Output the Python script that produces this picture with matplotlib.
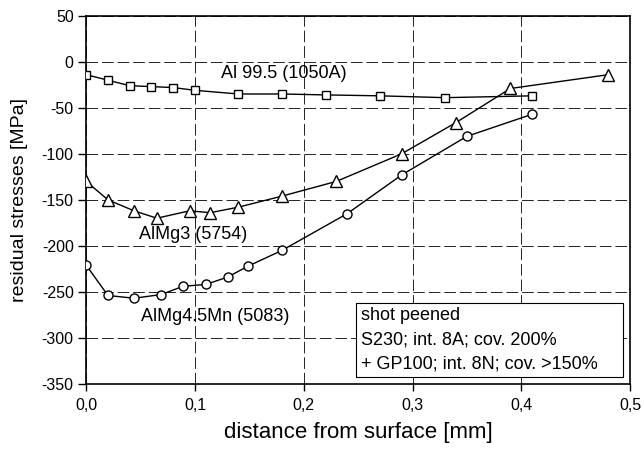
import matplotlib.pyplot as plt
from matplotlib.patches import Rectangle
from matplotlib.ticker import FuncFormatter

plt.rcParams['font.family'] = ['Liberation Sans', 'DejaVu Sans']

# Al 99.5 (1050A)
x_al = [0.0, 0.02, 0.04, 0.06, 0.08, 0.10, 0.14, 0.18, 0.22, 0.27, 0.33, 0.41]
y_al = [-14, -20, -26, -27, -28, -31, -35, -35, -36, -37, -39, -37]

# AlMg3 (5754)
x_mg3 = [0.0, 0.02, 0.044, 0.065, 0.095, 0.114, 0.14, 0.18, 0.23, 0.29, 0.34, 0.39, 0.48]
y_mg3 = [-130, -150, -162, -170, -162, -164, -158, -146, -130, -100, -66, -29, -14]

# AlMg4.5Mn (5083)
x_mn = [0.0, 0.02, 0.044, 0.069, 0.089, 0.11, 0.13, 0.149, 0.18, 0.24, 0.29, 0.35, 0.41]
y_mn = [-221, -254, -257, -253, -244, -242, -234, -222, -205, -165, -123, -81, -57]

legend_lines = ["shot peened",
                "S230; int. 8A; cov. 200%",
                "+ GP100; int. 8N; cov. >150%"]

fig = plt.figure(figsize=(6.43, 4.51), dpi=100)
ax = fig.add_axes([0.134, 0.149, 0.846, 0.816])

mk = dict(color='black', lw=1.0, markerfacecolor='white',
          markeredgecolor='black', markeredgewidth=1.0, zorder=3)
ax.plot(x_al, y_al, marker='s', markersize=6, **mk)
ax.plot(x_mg3, y_mg3, marker='^', markersize=8, **mk)
ax.plot(x_mn, y_mn, marker='o', markersize=6.5, **mk)

ax.text(0.182, -13, "Al 99.5 (1050A)", fontsize=13, ha='center', va='center')
ax.text(0.098, -188, "AlMg3 (5754)", fontsize=13, ha='center', va='center')
ax.text(0.119, -277, "AlMg4.5Mn (5083)", fontsize=13, ha='center', va='center')

# text box with the peening conditions
ax.add_patch(Rectangle((0.496, 0.019), 0.491, 0.201, transform=ax.transAxes,
                       facecolor='white', edgecolor='black', lw=0.8, zorder=4))
for i, line in enumerate(legend_lines):
    ax.text(0.506, 0.185 - i * 0.0655, line, transform=ax.transAxes,
            fontsize=13, ha='left', va='center', zorder=5)

ax.set_xlim(0, 0.5)
ax.set_ylim(-350, 50)
ax.set_xticks([0, 0.1, 0.2, 0.3, 0.4, 0.5])
ax.set_yticks(range(-350, 51, 50))
ax.xaxis.set_major_formatter(FuncFormatter(lambda v, p: f"{v:.1f}".replace('.', ',')))
ax.yaxis.set_major_formatter(FuncFormatter(lambda v, p: f"{int(v)}"))
ax.tick_params(axis='x', direction='out', length=5, width=1, labelsize=11.5, pad=5)
ax.tick_params(axis='y', direction='out', length=6, width=1, labelsize=11.5, pad=3)
ax.grid(True, color='#222222', lw=0.7, linestyle=(0, (12, 4)))
ax.set_axisbelow(True)
for s in ax.spines.values():
    s.set_linewidth(1.2)

ax.set_xlabel("distance from surface [mm]", fontsize=16, labelpad=7)
ax.set_ylabel("residual stresses [MPa]", fontsize=14, labelpad=10)

fig.savefig("out.png", dpi=100)
